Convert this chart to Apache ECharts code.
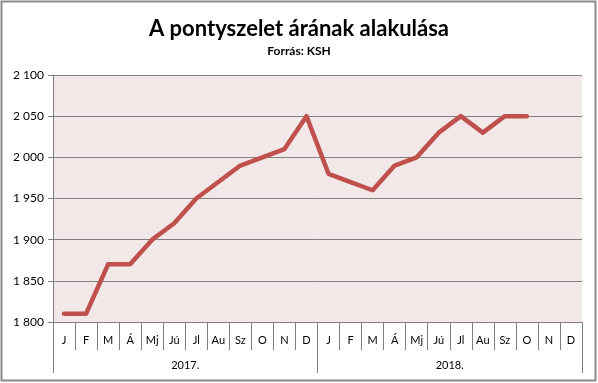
<!DOCTYPE html>
<html>
<head>
<meta charset="utf-8">
<script src="https://cdn.jsdelivr.net/npm/echarts@6/dist/echarts.min.js"></script>
<style>html,body{margin:0;padding:0;background:#fff}#c{width:598px;height:383px}</style>
</head>
<body>
<div id="c"></div>
<script>
const months = ['J','F','M','Á','Mj','Jú','Jl','Au','Sz','O','N','D','J','F','M','Á','Mj','Jú','Jl','Au','Sz','O','N','D'];
const years = ['2017.','2018.'];
const prices = [1810,1810,1870,1870,1900,1920,1950,1970,1990,2000,2010,2050,1980,1970,1960,1990,2000,2030,2050,2030,2050,2050,null,null];
const yTicks = {min:1800, max:2100, interval:50};

const chart = echarts.init(document.getElementById('c'), null, {renderer:'canvas'});
const font = 'Lato, "Open Sans", sans-serif';
chart.setOption({
  animation:false,
  backgroundColor:'#fff',
  title:{
    text:'A pontyszelet árának alakulása',
    subtext:'Forrás: KSH',
    left:'center', top:13, itemGap:5,
    textStyle:{fontFamily:font, fontWeight:'bold', fontSize:22, color:'#000'},
    subtextStyle:{fontFamily:font, fontWeight:'bold', fontSize:12, color:'#000'}
  },
  graphic:[{type:'rect', shape:{x:1.5,y:1.5,width:594,height:379}, style:{fill:null, stroke:'#8a8a8a', lineWidth:2}, silent:true}],
  grid:{left:53, right:16, top:75, bottom:61, show:true, backgroundColor:'#f3e8e8', borderWidth:0},
  yAxis:{
    type:'value', min:yTicks.min, max:yTicks.max, interval:yTicks.interval,
    axisLine:{show:true, lineStyle:{color:'#808080', width:1}},
    axisTick:{show:true, length:5, lineStyle:{color:'#808080'}},
    splitLine:{show:true, lineStyle:{color:'#808080', width:1}},
    axisLabel:{fontFamily:font, fontSize:12, color:'#000', margin:9,
      formatter:v=>String(v).replace(/\B(?=(\d{3})+(?!\d))/g,' ')}
  },
  xAxis:[{
    type:'category', data:months, position:'bottom', boundaryGap:true,
    axisLine:{show:true, lineStyle:{color:'#808080', width:1}},
    axisTick:{show:true, interval:0, length:28, lineStyle:{color:'#808080'}},
    axisLabel:{interval:0, fontFamily:font, fontSize:11, color:'#000', margin:13}
  },{
    type:'category', data:years, position:'bottom', boundaryGap:true,
    axisLine:{show:false},
    axisTick:{show:true, interval:0, length:51, lineStyle:{color:'#808080'}},
    axisLabel:{interval:0, fontFamily:font, fontSize:11, color:'#000', margin:38}
  }],
  series:[{
    type:'line', data:prices, xAxisIndex:0, showSymbol:false, symbol:'none',
    lineStyle:{color:'#c0504d', width:4.5, cap:'round', join:'round'},
    connectNulls:false
  }]
});
</script>
</body>
</html>
